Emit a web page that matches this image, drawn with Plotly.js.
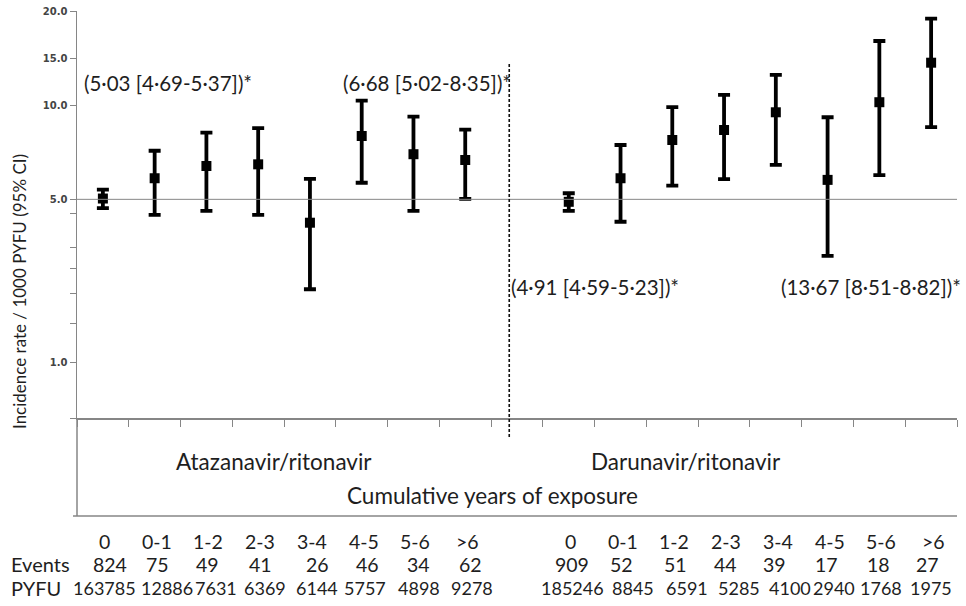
<!DOCTYPE html>
<html>
<head>
<meta charset="utf-8">
<script src="https://cdn.plot.ly/plotly-3.0.1.min.js"></script>
<style>html,body{margin:0;padding:0;background:#fff;}#chart{width:966px;height:606px;}</style>
</head>
<body>
<div id="chart"></div>
<script>
// ---- data ----
const categories = ["0", "0-1", "1-2", "2-3", "3-4", "4-5", "5-6", ">6"];
const atvRate  = [5.03, 5.84, 6.39, 6.47, 4.21, 7.97, 6.97, 6.68];
const atvLower = [4.69, 4.46, 4.59, 4.46, 2.58, 5.65, 4.59, 5.02];
const atvUpper = [5.37, 7.15, 8.17, 8.44, 5.81, 10.34, 9.19, 8.35];
const drvRate  = [4.91, 5.84, 7.74, 8.33, 9.49, 5.77, 10.22, 13.67];
const drvLower = [4.59, 4.24, 5.53, 5.80, 6.44, 3.30, 5.98, 8.51];
const drvUpper = [5.23, 7.46, 9.85, 10.78, 12.49, 9.15, 16.04, 18.90];
const atvEvents = [824, 75, 49, 41, 26, 46, 34, 62];
const atvPyfu   = [163785, 12886, 7631, 6369, 6144, 5757, 4898, 9278];
const drvEvents = [909, 52, 51, 44, 39, 17, 18, 27];
const drvPyfu   = [185246, 8845, 6591, 5285, 4100, 2940, 1768, 1975];
const groupNames = ["Atazanavir/ritonavir", "Darunavir/ritonavir"];
const overallLabels = [
  "(5·03 [4·69-5·37])*",
  "(6·68 [5·02-8·35])*",
  "(4·91 [4·59-5·23])*",
  "(13·67 [8·51-8·82])*"
];
const yTickVals = [1, 1.5, 2, 2.5, 3, 3.5, 4.5, 5, 10, 14.1, 20];
const yTickText = ["", "1.0", "", "", "", "", "", "5.0", "10.0", "15.0", "20.0"];
const refRate = 5;

// ---- layout-only offsets (pixels) for the hand-placed table text ----
const atvEventShift = [7, 3, 1, 2, 8, 6, 5, 5];
const drvEventShift = [3, 1, 3, 1, -1, -1, -1, -4];
const atvPyfuShift  = [2, 12, 10, 7, 7, 3, 6, 7];
const drvPyfuShift  = [4, 12, 15, 15, 14, 6, 2, 0];

const atvX = categories.map((c, i) => i + 0.5);
const drvX = categories.map((c, i) => i + 9.5);

const FONT = "Lato, 'Open Sans', sans-serif";
const TXT = "#1e1e1e";
const AX = "#868686";

function errTrace(x, y, lo, hi) {
  return {
    type: "scatter", mode: "markers", x: x, y: y,
    marker: {symbol: "square", size: 10, color: "#000"},
    error_y: {
      type: "data", symmetric: false,
      array: y.map((v, i) => hi[i] - v),
      arrayminus: y.map((v, i) => v - lo[i]),
      color: "#000", thickness: 3.8, width: 6
    },
    showlegend: false, hoverinfo: "skip", cliponaxis: false
  };
}

const pyToPaper = py => (418 - py) / 407;
const pxToPaper = px => (px - 77) / 880;

const annotations = [];
function add(o, size) { annotations.push(Object.assign({showarrow: false, font: {family: FONT, size: size || 20.5, color: TXT}}, o)); }

// y title
add({text: "Incidence rate / 1000 PYFU (95% CI)", xref: "paper", yref: "paper",
     x: pxToPaper(19), y: pyToPaper(292), textangle: -90, xanchor: "center", yanchor: "middle"}, 17);
// overall labels
add({text: overallLabels[0], xref: "paper", yref: "paper", x: pxToPaper(82), y: pyToPaper(83), xanchor: "left", yanchor: "middle"});
add({text: overallLabels[1], xref: "paper", yref: "paper", x: pxToPaper(513), y: pyToPaper(83), xanchor: "right", yanchor: "middle"});
add({text: overallLabels[2], xref: "paper", yref: "paper", x: pxToPaper(509), y: pyToPaper(287), xanchor: "left", yanchor: "middle"});
add({text: overallLabels[3], xref: "paper", yref: "paper", x: pxToPaper(963), y: pyToPaper(287), xanchor: "right", yanchor: "middle"});
// group labels
add({text: groupNames[0], xref: "paper", yref: "paper", x: pxToPaper(274), y: pyToPaper(461), xanchor: "center", yanchor: "middle"}, 22.5);
add({text: groupNames[1], xref: "paper", yref: "paper", x: pxToPaper(686), y: pyToPaper(461), xanchor: "center", yanchor: "middle"}, 22.5);
add({text: "Cumulative years of exposure", xref: "paper", yref: "paper", x: pxToPaper(492), y: pyToPaper(495), xanchor: "center", yanchor: "middle"}, 22.5);
// table
add({text: "Events", xref: "paper", yref: "paper", x: pxToPaper(9), y: pyToPaper(564), xanchor: "left", yanchor: "middle"}, 20);
add({text: "PYFU", xref: "paper", yref: "paper", x: pxToPaper(9), y: pyToPaper(588), xanchor: "left", yanchor: "middle"}, 20);
categories.forEach((c, i) => {
  [[atvX[i], atvEvents[i], atvPyfu[i], atvEventShift[i], atvPyfuShift[i]],
   [drvX[i], drvEvents[i], drvPyfu[i], drvEventShift[i], drvPyfuShift[i]]].forEach(([x, ev, py, es, ps]) => {
    add({text: c, xref: "x", yref: "paper", x: x, xshift: 2, y: pyToPaper(541), xanchor: "center", yanchor: "middle"}, 19.5);
    add({text: String(ev), xref: "x", yref: "paper", x: x, xshift: es, y: pyToPaper(564), xanchor: "center", yanchor: "middle"}, 19.5);
    add({text: String(py), xref: "x", yref: "paper", x: x, xshift: ps, y: pyToPaper(588), xanchor: "center", yanchor: "middle"}, 18);
  });
});

const shapes = [
  {type: "line", xref: "paper", yref: "y", x0: 0, x1: 1, y0: refRate, y1: refRate, line: {color: AX, width: 1}},
  {type: "line", xref: "x", yref: "paper", x0: 8.35, x1: 8.35, y0: pyToPaper(437), y1: pyToPaper(63), line: {color: "#111", width: 1.6, dash: "3px,2px"}},
  {type: "line", xref: "paper", yref: "paper", x0: 0, x1: 0, y0: 0, y1: pyToPaper(516), line: {color: AX, width: 1.5}},
  {type: "line", xref: "paper", yref: "paper", x0: pxToPaper(73), x1: 1, y0: pyToPaper(516), y1: pyToPaper(516), line: {color: AX, width: 1.5}}
];

const layout = {
  width: 966, height: 606,
  margin: {l: 77, r: 9, t: 11, b: 188, pad: 0},
  paper_bgcolor: "#fff", plot_bgcolor: "#fff",
  showlegend: false,
  xaxis: {
    range: [0, 17], tickmode: "linear", tick0: 0, dtick: 1,
    ticks: "outside", ticklen: 7, tickcolor: AX, tickwidth: 1,
    showticklabels: false, showgrid: false, zeroline: false,
    showline: true, linecolor: AX, linewidth: 1.5, fixedrange: true
  },
  yaxis: {
    type: "log", range: [0, Math.log10(20)],
    tickmode: "array", tickvals: yTickVals, ticktext: yTickText,
    ticks: "outside", ticklen: 6, tickcolor: AX, tickwidth: 1,
    tickfont: {family: "'DejaVu Sans', sans-serif", size: 10, color: "#444", weight: "bold"},
    showgrid: false, zeroline: false, showline: true, linecolor: AX, linewidth: 1.5,
    fixedrange: true
  },
  shapes: shapes,
  annotations: annotations
};

Plotly.newPlot("chart", [errTrace(atvX, atvRate, atvLower, atvUpper), errTrace(drvX, drvRate, drvLower, drvUpper)], layout, {staticPlot: true, displayModeBar: false});
</script>
</body>
</html>
